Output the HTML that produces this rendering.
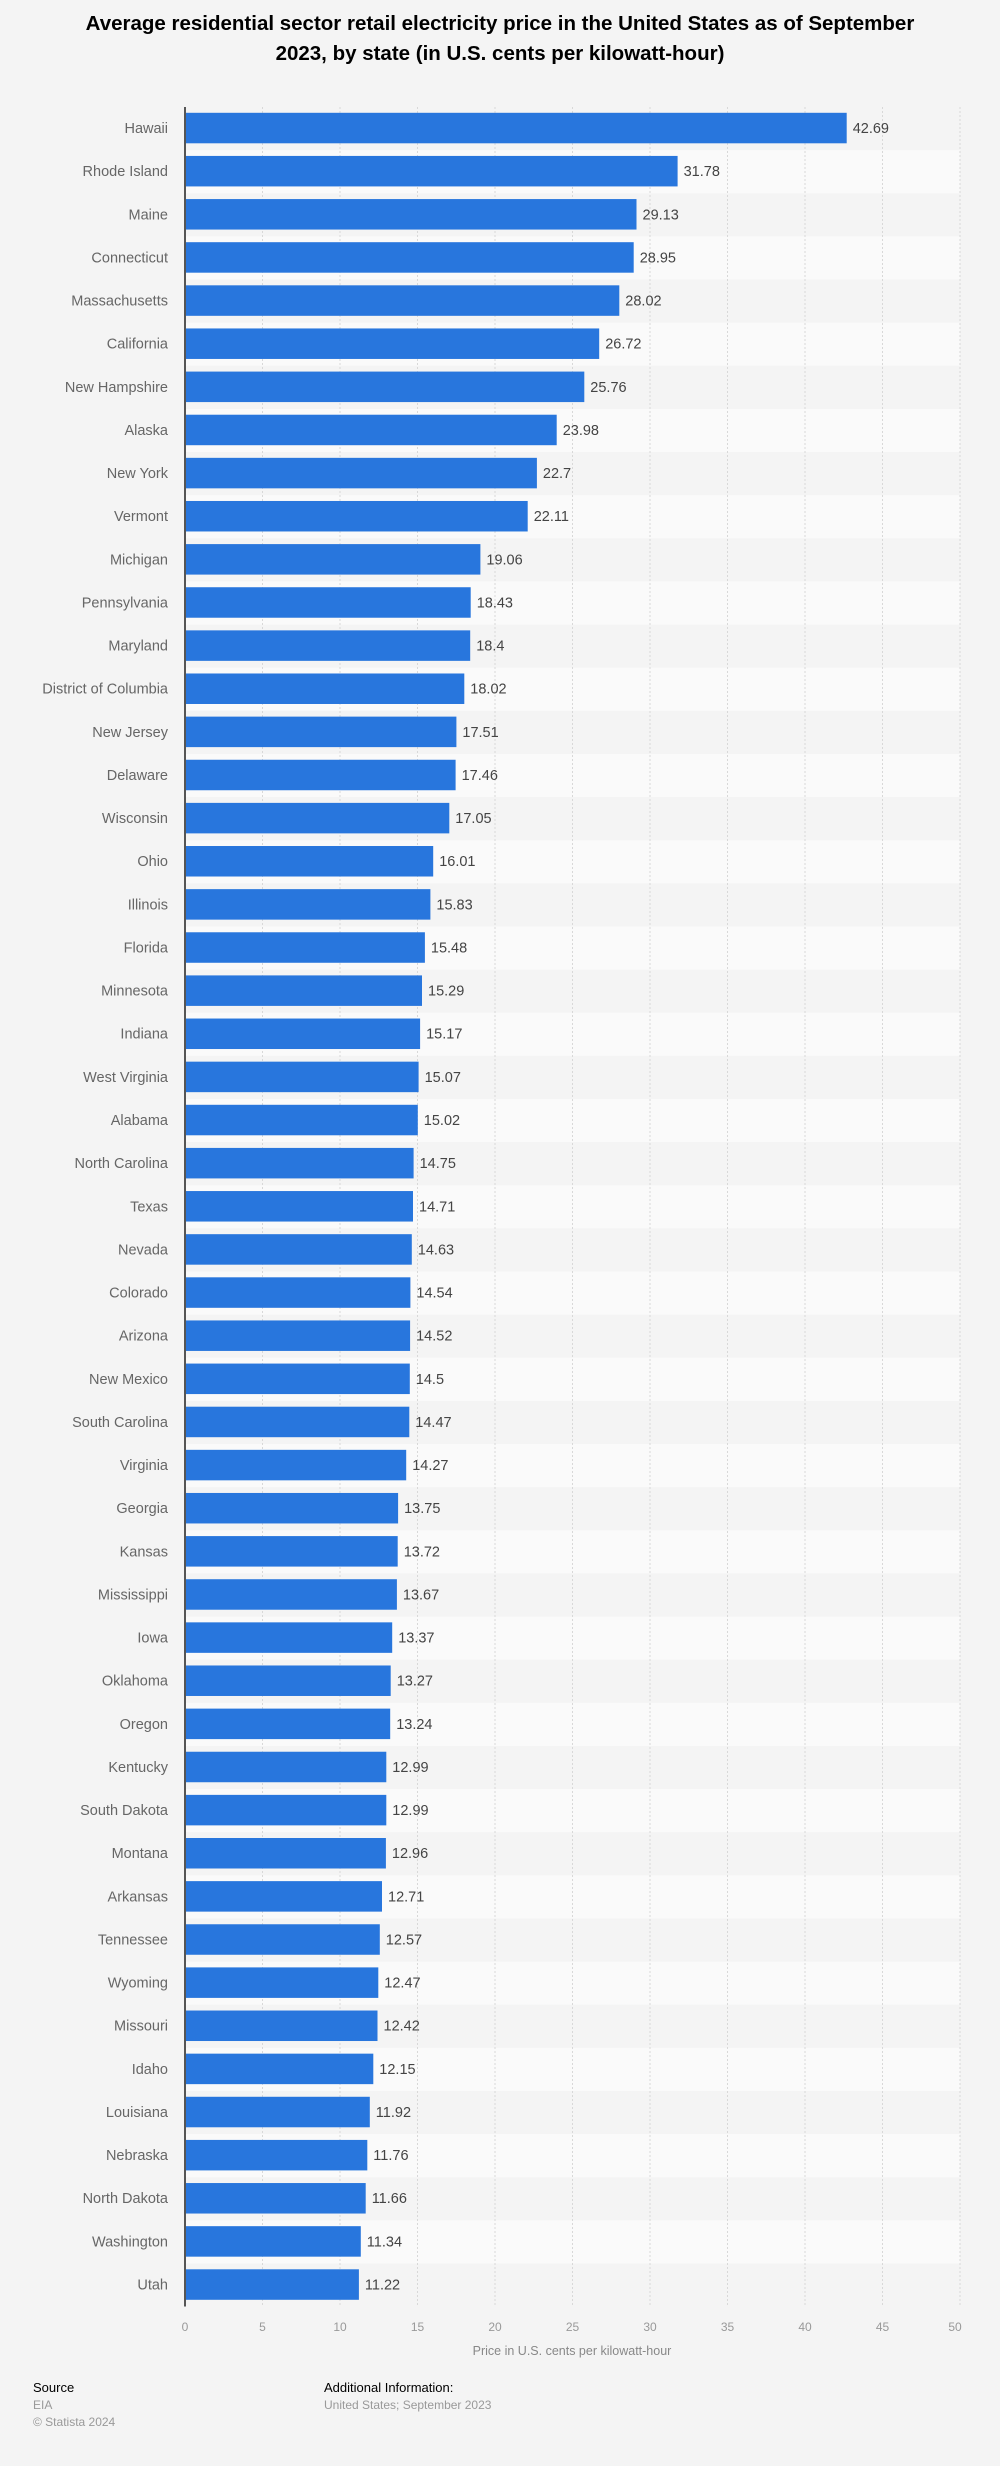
<!DOCTYPE html>
<html><head><meta charset="utf-8"><style>
html,body{margin:0;padding:0;background:#f4f4f4;}
svg{display:block;font-family:"Liberation Sans",sans-serif;}
.l{font-size:14.5px;fill:#666;text-anchor:end;}
.v{font-size:14.5px;fill:#444;}
.t{font-size:12px;fill:#999;text-anchor:middle;}
</style></head><body>
<svg width="1000" height="2466" viewBox="0 0 1000 2466" xmlns="http://www.w3.org/2000/svg">
<rect width="1000" height="2466" fill="#f4f4f4"/>
<text x="500" y="30" font-size="20.5" font-weight="bold" text-anchor="middle" fill="#000">Average residential sector retail electricity price in the United States as of September</text>
<text x="500" y="60" font-size="20.5" font-weight="bold" text-anchor="middle" fill="#000">2023, by state (in U.S. cents per kilowatt-hour)</text>
<g fill="#fafafa">
<rect x="185" y="150.13" width="775" height="43.13"/><rect x="185" y="236.39" width="775" height="43.13"/><rect x="185" y="322.65" width="775" height="43.13"/><rect x="185" y="408.91" width="775" height="43.13"/><rect x="185" y="495.17" width="775" height="43.13"/><rect x="185" y="581.43" width="775" height="43.13"/><rect x="185" y="667.69" width="775" height="43.13"/><rect x="185" y="753.95" width="775" height="43.13"/><rect x="185" y="840.21" width="775" height="43.13"/><rect x="185" y="926.47" width="775" height="43.13"/><rect x="185" y="1012.73" width="775" height="43.13"/><rect x="185" y="1098.99" width="775" height="43.13"/><rect x="185" y="1185.25" width="775" height="43.13"/><rect x="185" y="1271.51" width="775" height="43.13"/><rect x="185" y="1357.77" width="775" height="43.13"/><rect x="185" y="1444.03" width="775" height="43.13"/><rect x="185" y="1530.29" width="775" height="43.13"/><rect x="185" y="1616.55" width="775" height="43.13"/><rect x="185" y="1702.81" width="775" height="43.13"/><rect x="185" y="1789.07" width="775" height="43.13"/><rect x="185" y="1875.33" width="775" height="43.13"/><rect x="185" y="1961.59" width="775" height="43.13"/><rect x="185" y="2047.85" width="775" height="43.13"/><rect x="185" y="2134.11" width="775" height="43.13"/><rect x="185" y="2220.37" width="775" height="43.13"/>
</g>
<g stroke="#d8d8d8" stroke-width="1" stroke-dasharray="2,2">
<line x1="262.5" y1="107" x2="262.5" y2="2307"/><line x1="340" y1="107" x2="340" y2="2307"/><line x1="417.5" y1="107" x2="417.5" y2="2307"/><line x1="495" y1="107" x2="495" y2="2307"/><line x1="572.5" y1="107" x2="572.5" y2="2307"/><line x1="650" y1="107" x2="650" y2="2307"/><line x1="727.5" y1="107" x2="727.5" y2="2307"/><line x1="805" y1="107" x2="805" y2="2307"/><line x1="882.5" y1="107" x2="882.5" y2="2307"/><line x1="960" y1="107" x2="960" y2="2307"/>
</g>
<g id="rows">
<g transform="translate(0,107)"><rect x="185" y="5.8" width="661.7" height="30.5" fill="#2876dd"/><text class="l" x="168" y="26">Hawaii</text><text class="v" x="852.7" y="26">42.69</text></g>
<g transform="translate(0,150.13)"><rect x="185" y="5.8" width="492.6" height="30.5" fill="#2876dd"/><text class="l" x="168" y="26">Rhode Island</text><text class="v" x="683.6" y="26">31.78</text></g>
<g transform="translate(0,193.26)"><rect x="185" y="5.8" width="451.5" height="30.5" fill="#2876dd"/><text class="l" x="168" y="26">Maine</text><text class="v" x="642.5" y="26">29.13</text></g>
<g transform="translate(0,236.39)"><rect x="185" y="5.8" width="448.7" height="30.5" fill="#2876dd"/><text class="l" x="168" y="26">Connecticut</text><text class="v" x="639.7" y="26">28.95</text></g>
<g transform="translate(0,279.52)"><rect x="185" y="5.8" width="434.3" height="30.5" fill="#2876dd"/><text class="l" x="168" y="26">Massachusetts</text><text class="v" x="625.3" y="26">28.02</text></g>
<g transform="translate(0,322.65)"><rect x="185" y="5.8" width="414.2" height="30.5" fill="#2876dd"/><text class="l" x="168" y="26">California</text><text class="v" x="605.2" y="26">26.72</text></g>
<g transform="translate(0,365.78)"><rect x="185" y="5.8" width="399.3" height="30.5" fill="#2876dd"/><text class="l" x="168" y="26">New Hampshire</text><text class="v" x="590.3" y="26">25.76</text></g>
<g transform="translate(0,408.91)"><rect x="185" y="5.8" width="371.7" height="30.5" fill="#2876dd"/><text class="l" x="168" y="26">Alaska</text><text class="v" x="562.7" y="26">23.98</text></g>
<g transform="translate(0,452.04)"><rect x="185" y="5.8" width="351.9" height="30.5" fill="#2876dd"/><text class="l" x="168" y="26">New York</text><text class="v" x="542.9" y="26">22.7</text></g>
<g transform="translate(0,495.17)"><rect x="185" y="5.8" width="342.7" height="30.5" fill="#2876dd"/><text class="l" x="168" y="26">Vermont</text><text class="v" x="533.7" y="26">22.11</text></g>
<g transform="translate(0,538.3)"><rect x="185" y="5.8" width="295.4" height="30.5" fill="#2876dd"/><text class="l" x="168" y="26">Michigan</text><text class="v" x="486.4" y="26">19.06</text></g>
<g transform="translate(0,581.43)"><rect x="185" y="5.8" width="285.7" height="30.5" fill="#2876dd"/><text class="l" x="168" y="26">Pennsylvania</text><text class="v" x="476.7" y="26">18.43</text></g>
<g transform="translate(0,624.56)"><rect x="185" y="5.8" width="285.2" height="30.5" fill="#2876dd"/><text class="l" x="168" y="26">Maryland</text><text class="v" x="476.2" y="26">18.4</text></g>
<g transform="translate(0,667.69)"><rect x="185" y="5.8" width="279.3" height="30.5" fill="#2876dd"/><text class="l" x="168" y="26">District of Columbia</text><text class="v" x="470.3" y="26">18.02</text></g>
<g transform="translate(0,710.82)"><rect x="185" y="5.8" width="271.4" height="30.5" fill="#2876dd"/><text class="l" x="168" y="26">New Jersey</text><text class="v" x="462.4" y="26">17.51</text></g>
<g transform="translate(0,753.95)"><rect x="185" y="5.8" width="270.6" height="30.5" fill="#2876dd"/><text class="l" x="168" y="26">Delaware</text><text class="v" x="461.6" y="26">17.46</text></g>
<g transform="translate(0,797.08)"><rect x="185" y="5.8" width="264.3" height="30.5" fill="#2876dd"/><text class="l" x="168" y="26">Wisconsin</text><text class="v" x="455.3" y="26">17.05</text></g>
<g transform="translate(0,840.21)"><rect x="185" y="5.8" width="248.2" height="30.5" fill="#2876dd"/><text class="l" x="168" y="26">Ohio</text><text class="v" x="439.2" y="26">16.01</text></g>
<g transform="translate(0,883.34)"><rect x="185" y="5.8" width="245.4" height="30.5" fill="#2876dd"/><text class="l" x="168" y="26">Illinois</text><text class="v" x="436.4" y="26">15.83</text></g>
<g transform="translate(0,926.47)"><rect x="185" y="5.8" width="239.9" height="30.5" fill="#2876dd"/><text class="l" x="168" y="26">Florida</text><text class="v" x="430.9" y="26">15.48</text></g>
<g transform="translate(0,969.6)"><rect x="185" y="5.8" width="237.0" height="30.5" fill="#2876dd"/><text class="l" x="168" y="26">Minnesota</text><text class="v" x="428" y="26">15.29</text></g>
<g transform="translate(0,1012.73)"><rect x="185" y="5.8" width="235.1" height="30.5" fill="#2876dd"/><text class="l" x="168" y="26">Indiana</text><text class="v" x="426.1" y="26">15.17</text></g>
<g transform="translate(0,1055.86)"><rect x="185" y="5.8" width="233.6" height="30.5" fill="#2876dd"/><text class="l" x="168" y="26">West Virginia</text><text class="v" x="424.6" y="26">15.07</text></g>
<g transform="translate(0,1098.99)"><rect x="185" y="5.8" width="232.8" height="30.5" fill="#2876dd"/><text class="l" x="168" y="26">Alabama</text><text class="v" x="423.8" y="26">15.02</text></g>
<g transform="translate(0,1142.12)"><rect x="185" y="5.8" width="228.6" height="30.5" fill="#2876dd"/><text class="l" x="168" y="26">North Carolina</text><text class="v" x="419.6" y="26">14.75</text></g>
<g transform="translate(0,1185.25)"><rect x="185" y="5.8" width="228.0" height="30.5" fill="#2876dd"/><text class="l" x="168" y="26">Texas</text><text class="v" x="419" y="26">14.71</text></g>
<g transform="translate(0,1228.38)"><rect x="185" y="5.8" width="226.8" height="30.5" fill="#2876dd"/><text class="l" x="168" y="26">Nevada</text><text class="v" x="417.8" y="26">14.63</text></g>
<g transform="translate(0,1271.51)"><rect x="185" y="5.8" width="225.4" height="30.5" fill="#2876dd"/><text class="l" x="168" y="26">Colorado</text><text class="v" x="416.4" y="26">14.54</text></g>
<g transform="translate(0,1314.64)"><rect x="185" y="5.8" width="225.1" height="30.5" fill="#2876dd"/><text class="l" x="168" y="26">Arizona</text><text class="v" x="416.1" y="26">14.52</text></g>
<g transform="translate(0,1357.77)"><rect x="185" y="5.8" width="224.8" height="30.5" fill="#2876dd"/><text class="l" x="168" y="26">New Mexico</text><text class="v" x="415.8" y="26">14.5</text></g>
<g transform="translate(0,1400.9)"><rect x="185" y="5.8" width="224.3" height="30.5" fill="#2876dd"/><text class="l" x="168" y="26">South Carolina</text><text class="v" x="415.3" y="26">14.47</text></g>
<g transform="translate(0,1444.03)"><rect x="185" y="5.8" width="221.2" height="30.5" fill="#2876dd"/><text class="l" x="168" y="26">Virginia</text><text class="v" x="412.2" y="26">14.27</text></g>
<g transform="translate(0,1487.16)"><rect x="185" y="5.8" width="213.1" height="30.5" fill="#2876dd"/><text class="l" x="168" y="26">Georgia</text><text class="v" x="404.1" y="26">13.75</text></g>
<g transform="translate(0,1530.29)"><rect x="185" y="5.8" width="212.7" height="30.5" fill="#2876dd"/><text class="l" x="168" y="26">Kansas</text><text class="v" x="403.7" y="26">13.72</text></g>
<g transform="translate(0,1573.42)"><rect x="185" y="5.8" width="211.9" height="30.5" fill="#2876dd"/><text class="l" x="168" y="26">Mississippi</text><text class="v" x="402.9" y="26">13.67</text></g>
<g transform="translate(0,1616.55)"><rect x="185" y="5.8" width="207.2" height="30.5" fill="#2876dd"/><text class="l" x="168" y="26">Iowa</text><text class="v" x="398.2" y="26">13.37</text></g>
<g transform="translate(0,1659.68)"><rect x="185" y="5.8" width="205.7" height="30.5" fill="#2876dd"/><text class="l" x="168" y="26">Oklahoma</text><text class="v" x="396.7" y="26">13.27</text></g>
<g transform="translate(0,1702.81)"><rect x="185" y="5.8" width="205.2" height="30.5" fill="#2876dd"/><text class="l" x="168" y="26">Oregon</text><text class="v" x="396.2" y="26">13.24</text></g>
<g transform="translate(0,1745.94)"><rect x="185" y="5.8" width="201.3" height="30.5" fill="#2876dd"/><text class="l" x="168" y="26">Kentucky</text><text class="v" x="392.3" y="26">12.99</text></g>
<g transform="translate(0,1789.07)"><rect x="185" y="5.8" width="201.3" height="30.5" fill="#2876dd"/><text class="l" x="168" y="26">South Dakota</text><text class="v" x="392.3" y="26">12.99</text></g>
<g transform="translate(0,1832.2)"><rect x="185" y="5.8" width="200.9" height="30.5" fill="#2876dd"/><text class="l" x="168" y="26">Montana</text><text class="v" x="391.9" y="26">12.96</text></g>
<g transform="translate(0,1875.33)"><rect x="185" y="5.8" width="197.0" height="30.5" fill="#2876dd"/><text class="l" x="168" y="26">Arkansas</text><text class="v" x="388" y="26">12.71</text></g>
<g transform="translate(0,1918.46)"><rect x="185" y="5.8" width="194.8" height="30.5" fill="#2876dd"/><text class="l" x="168" y="26">Tennessee</text><text class="v" x="385.8" y="26">12.57</text></g>
<g transform="translate(0,1961.59)"><rect x="185" y="5.8" width="193.3" height="30.5" fill="#2876dd"/><text class="l" x="168" y="26">Wyoming</text><text class="v" x="384.3" y="26">12.47</text></g>
<g transform="translate(0,2004.72)"><rect x="185" y="5.8" width="192.5" height="30.5" fill="#2876dd"/><text class="l" x="168" y="26">Missouri</text><text class="v" x="383.5" y="26">12.42</text></g>
<g transform="translate(0,2047.85)"><rect x="185" y="5.8" width="188.3" height="30.5" fill="#2876dd"/><text class="l" x="168" y="26">Idaho</text><text class="v" x="379.3" y="26">12.15</text></g>
<g transform="translate(0,2090.98)"><rect x="185" y="5.8" width="184.8" height="30.5" fill="#2876dd"/><text class="l" x="168" y="26">Louisiana</text><text class="v" x="375.8" y="26">11.92</text></g>
<g transform="translate(0,2134.11)"><rect x="185" y="5.8" width="182.3" height="30.5" fill="#2876dd"/><text class="l" x="168" y="26">Nebraska</text><text class="v" x="373.3" y="26">11.76</text></g>
<g transform="translate(0,2177.24)"><rect x="185" y="5.8" width="180.7" height="30.5" fill="#2876dd"/><text class="l" x="168" y="26">North Dakota</text><text class="v" x="371.7" y="26">11.66</text></g>
<g transform="translate(0,2220.37)"><rect x="185" y="5.8" width="175.8" height="30.5" fill="#2876dd"/><text class="l" x="168" y="26">Washington</text><text class="v" x="366.8" y="26">11.34</text></g>
<g transform="translate(0,2263.5)"><rect x="185" y="5.8" width="173.9" height="30.5" fill="#2876dd"/><text class="l" x="168" y="26">Utah</text><text class="v" x="364.9" y="26">11.22</text></g>
</g>
<line x1="185" y1="107" x2="185" y2="2306.5" stroke="#555" stroke-width="2"/>
<text class="t" x="185" y="2331">0</text><text class="t" x="262.5" y="2331">5</text><text class="t" x="340" y="2331">10</text><text class="t" x="417.5" y="2331">15</text><text class="t" x="495" y="2331">20</text><text class="t" x="572.5" y="2331">25</text><text class="t" x="650" y="2331">30</text><text class="t" x="727.5" y="2331">35</text><text class="t" x="805" y="2331">40</text><text class="t" x="882.5" y="2331">45</text><text class="t" x="955" y="2331">50</text>
<text x="572" y="2355" font-size="12.5" fill="#888" text-anchor="middle">Price in U.S. cents per kilowatt-hour</text>
<text x="33" y="2392" font-size="13" fill="#000">Source</text>
<text x="33" y="2409" font-size="12" fill="#999">EIA</text>
<text x="33" y="2426" font-size="12" fill="#999">© Statista 2024</text>
<text x="324" y="2392" font-size="13" fill="#000">Additional Information:</text>
<text x="324" y="2409" font-size="12" fill="#999">United States; September 2023</text>
</svg>
</body></html>
